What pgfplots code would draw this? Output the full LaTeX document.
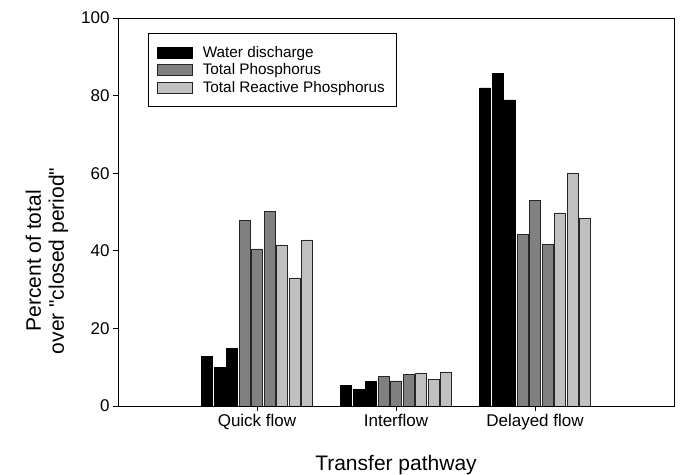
\documentclass[border=0pt]{standalone}
\usepackage{fontspec}
\setmainfont{Liberation Sans}[Ligatures=TeXOff]
\usepackage{pgfplots}
\pgfplotsset{compat=1.18}
\definecolor{darkg}{RGB}{128,128,128}
\definecolor{lightg}{RGB}{192,192,192}
\begin{document}
\begin{tikzpicture}
\begin{axis}[
  scale only axis, width=556pt, height=388pt,
  xmin=0, xmax=4, ymin=0, ymax=100,
  xtick={1,2,3}, xticklabels={Quick flow, Interflow, Delayed flow},
  ytick={0,20,40,60,80,100},
  tick align=outside, major tick length=5pt,
  xtick pos=lower, ytick pos=left,
  tick style={black, line width=0.8pt},
  axis line style={black, line width=0.8pt},
  ybar, bar width=10.6pt, bar shift=0pt,
  ticklabel style={font=\fontsize{17}{20}\selectfont},
  /pgf/number format/assume math mode=true,
  xlabel={Transfer pathway},
  ylabel={Percent of total\\over "closed period"},
  label style={font=\fontsize{21}{23}\selectfont},
  ylabel style={align=center, at={(axis description cs:-0.128,0.374)}, anchor=center, rotate=0},
  xlabel style={at={(axis description cs:0.5,-0.152)}, anchor=center},
  legend style={at={(axis description cs:0.054,0.961)}, anchor=north west,
    draw=black, line width=0.6pt, inner xsep=9pt, inner ysep=11pt,
    font=\fontsize{15.3}{17.5}\selectfont, row sep=0.8pt, column sep=8pt,
    cells={anchor=west}},
  legend cell align=left,
]
\addplot[fill=black, draw=black, line width=0.5pt,
  legend image code/.code={\draw[fill=black,draw=black,line width=0.5pt] (0pt,-5.5pt) rectangle (35pt,5.5pt);}]
  coordinates {(0.64,12.7) (0.73,10.0) (0.82,14.9)
               (1.64,5.3) (1.73,4.3) (1.82,6.3)
               (2.64,82.0) (2.73,85.7) (2.82,78.9)};
\addplot[fill=darkg, draw=black!85, line width=0.5pt,
  legend image code/.code={\draw[fill=darkg,draw=black!85,line width=0.5pt] (0pt,-5.5pt) rectangle (35pt,5.5pt);}]
  coordinates {(0.91,47.9) (1.00,40.5) (1.09,50.2)
               (1.91,7.6) (2.00,6.5) (2.09,8.1)
               (2.91,44.3) (3.00,53.0) (3.09,41.7)};
\addplot[fill=lightg, draw=black!85, line width=0.5pt,
  legend image code/.code={\draw[fill=lightg,draw=black!85,line width=0.5pt] (0pt,-5.5pt) rectangle (35pt,5.5pt);}]
  coordinates {(1.18,41.5) (1.27,33.0) (1.36,42.8)
               (2.18,8.5) (2.27,6.9) (2.36,8.8)
               (3.18,49.8) (3.27,60.1) (3.36,48.3)};
\legend{Water discharge, Total Phosphorus, Total Reactive Phosphorus}
\end{axis}
\pgfresetboundingbox
\path[use as bounding box] ([xshift=-118pt,yshift=-69pt]current axis.south west) rectangle ([xshift=6pt,yshift=18pt]current axis.north east);
\end{tikzpicture}
\end{document}
